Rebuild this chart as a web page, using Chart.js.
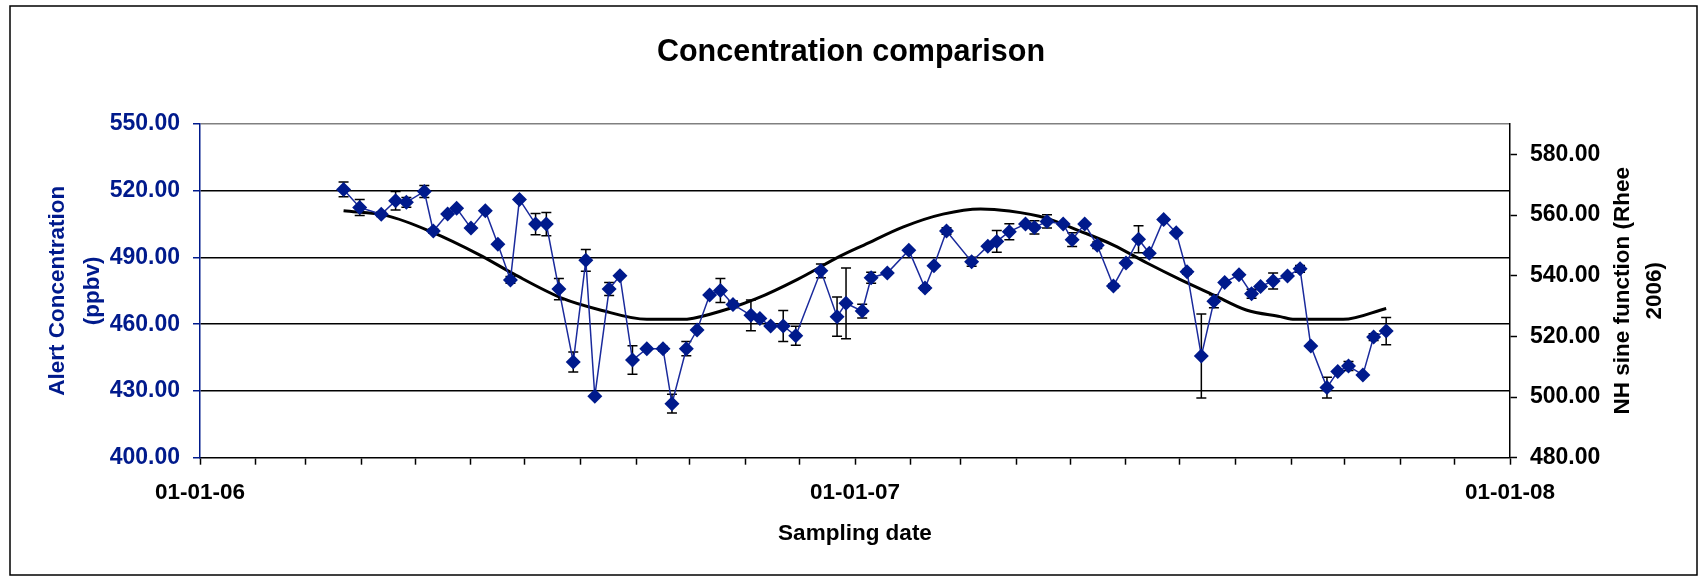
<!DOCTYPE html>
<html>
<head>
<meta charset="utf-8">
<title>Concentration comparison</title>
<script src="https://cdn.jsdelivr.net/npm/chart.js@4.4.1/dist/chart.umd.min.js"></script>
<style>
    body { margin: 0; background: #fff; }
    #wrap { position: relative; width: 1702px; height: 577px; }
</style>
</head>
<body>
<div id="wrap"><canvas id="concChart" width="1702" height="577"></canvas></div>
<script>
// Alert flask samples (ppbv) with error bars
const sampleDates = [
    '2006-03-22', '2006-03-31', '2006-04-12', '2006-04-20', '2006-04-26', '2006-05-06', '2006-05-11', '2006-05-19',
    '2006-05-24', '2006-06-01', '2006-06-09', '2006-06-16', '2006-06-23', '2006-06-28', '2006-07-07', '2006-07-13',
    '2006-07-20', '2006-07-28', '2006-08-04', '2006-08-09', '2006-08-17', '2006-08-23', '2006-08-30', '2006-09-07',
    '2006-09-16', '2006-09-21', '2006-09-29', '2006-10-05', '2006-10-12', '2006-10-18', '2006-10-25', '2006-11-04',
    '2006-11-09', '2006-11-15', '2006-11-22', '2006-11-29', '2006-12-13', '2006-12-22', '2006-12-27', '2007-01-05',
    '2007-01-10', '2007-01-19', '2007-01-31', '2007-02-09', '2007-02-14', '2007-02-21', '2007-03-07', '2007-03-16',
    '2007-03-21', '2007-03-28', '2007-04-06', '2007-04-11', '2007-04-18', '2007-04-27', '2007-05-02', '2007-05-09',
    '2007-05-16', '2007-05-25', '2007-06-01', '2007-06-08', '2007-06-14', '2007-06-22', '2007-06-29', '2007-07-05',
    '2007-07-13', '2007-07-20', '2007-07-26', '2007-08-03', '2007-08-10', '2007-08-15', '2007-08-22', '2007-08-30',
    '2007-09-06', '2007-09-12', '2007-09-21', '2007-09-27', '2007-10-03', '2007-10-11', '2007-10-17', '2007-10-24'
];
const alertConc = [
    520.6, 512.5, 509.4, 515.5, 514.8, 519.7, 501.9, 509.5,
    512.1, 503.2, 511.0, 495.9, 479.9, 516.1, 505.0, 505.0,
    475.8, 443.0, 488.7, 427.6, 475.8, 481.8, 443.9, 449.0,
    449.0, 424.3, 449.0, 457.4, 473.1, 475.2, 468.9, 464.0,
    462.6, 459.2, 459.2, 454.8, 484.0, 463.4, 469.4, 465.9,
    480.9, 483.0, 493.3, 476.3, 486.3, 501.9, 488.1, 495.1,
    497.2, 501.6, 505.0, 503.5, 506.2, 505.0, 498.0, 505.0,
    495.5, 477.2, 487.5, 498.2, 491.9, 507.1, 501.1, 483.6,
    445.7, 470.3, 478.8, 482.2, 473.7, 477.0, 479.4, 481.7,
    484.9, 450.2, 431.5, 438.7, 441.2, 437.2, 454.2, 456.9
];
const alertErr = [
    3.3, 3.6, 1.0, 4.2, 2.2, 2.7, 1.0, 0.5,
    0.5, 0.5, 0.5, 0.5, 1.5, 0.5, 4.8, 5.2,
    4.8, 4.5, 4.9, 0.5, 2.9, 0.5, 6.4, 0.5,
    1.0, 4.2, 3.2, 0.5, 0.5, 5.4, 1.5, 6.9,
    0.5, 0.5, 7.0, 4.3, 3.1, 8.8, 15.9, 3.1,
    2.5, 0.5, 0.5, 1.0, 0.5, 1.5, 2.0, 0.5,
    4.9, 3.6, 0.5, 3.0, 3.0, 0.5, 3.1, 0.5,
    1.5, 1.0, 0.5, 6.1, 0.5, 0.5, 0.5, 1.0,
    18.9, 2.9, 0.5, 0.5, 2.0, 0.5, 3.6, 0.5,
    1.5, 0.5, 4.7, 0.5, 2.0, 0.5, 1.5, 6.1
];

// NH sine function (Rhee 2006), secondary axis
const sineDates = [
    '2006-03-22', '2006-04-15', '2006-05-09', '2006-06-06', '2006-06-25', '2006-07-22', '2006-08-12', '2006-09-07',
    '2006-09-26', '2006-10-03', '2006-10-23', '2006-11-07', '2006-11-30', '2006-12-24', '2007-01-06', '2007-01-28',
    '2007-02-19', '2007-03-12', '2007-03-28', '2007-04-18', '2007-05-06', '2007-05-25', '2007-06-13', '2007-07-01',
    '2007-07-20', '2007-08-07', '2007-08-26', '2007-09-03', '2007-09-30', '2007-10-24'
];
const sineValues = [
    561.4, 559.8, 554.7, 546.8, 540.5, 532.5, 528.7, 525.6,
    525.6, 526.0, 529.2, 532.4, 538.8, 546.5, 550.1, 556.1,
    560.3, 562.0, 561.3, 558.9, 554.8, 550.1, 544.1, 538.8,
    533.6, 528.7, 526.5, 525.6, 525.6, 529.2
];

const leftTicks = [400, 430, 460, 490, 520, 550];
const rightTicks = [480, 500, 520, 540, 560, 580];
const xStart = '2006-01-01';
const xEnd = '2008-01-01';

const navy = '#001a8c';
const fontFamily = 'Arial, "Liberation Sans", sans-serif';

const alertPoints = sampleDates.map((d, i) => ({ x: Date.parse(d), y: alertConc[i] }));
const sinePoints = sineDates.map((d, i) => ({ x: Date.parse(d), y: sineValues[i] }));

function fmtDate(ms) {
    const d = new Date(ms);
    const dd = String(d.getUTCDate()).padStart(2, '0');
    const mm = String(d.getUTCMonth() + 1).padStart(2, '0');
    const yy = String(d.getUTCFullYear()).slice(2);
    return dd + '-' + mm + '-' + yy;
}

// outer frame of the chart
const framePlugin = {
    id: 'frame',
    beforeDraw(chart) {
        const ctx = chart.ctx;
        ctx.save();
        ctx.fillStyle = '#fff';
        ctx.fillRect(0, 0, chart.width, chart.height);
        ctx.strokeStyle = '#000';
        ctx.lineWidth = 1.5;
        ctx.strokeRect(10, 6, 1687, 569);
        ctx.restore();
    }
};

// vertical error bars under the markers
const errorBarPlugin = {
    id: 'errorBars',
    beforeDatasetsDraw(chart) {
        const meta = chart.getDatasetMeta(0);
        const yScale = chart.scales.y;
        const ctx = chart.ctx;
        ctx.save();
        ctx.strokeStyle = '#000';
        ctx.lineWidth = 1.5;
        meta.data.forEach((pt, i) => {
            const top = yScale.getPixelForValue(alertConc[i] + alertErr[i]);
            const bot = yScale.getPixelForValue(alertConc[i] - alertErr[i]);
            ctx.beginPath();
            ctx.moveTo(pt.x, top);
            ctx.lineTo(pt.x, bot);
            ctx.moveTo(pt.x - 5, top);
            ctx.lineTo(pt.x + 5, top);
            ctx.moveTo(pt.x - 5, bot);
            ctx.lineTo(pt.x + 5, bot);
            ctx.stroke();
        });
        ctx.restore();
    }
};

// right axis title reads bottom-to-top, like the left one
const rightTitlePlugin = {
    id: 'rightTitle',
    afterDraw(chart) {
        const ctx = chart.ctx;
        const area = chart.chartArea;
        const cy = (area.top + area.bottom) / 2;
        ctx.save();
        ctx.fillStyle = '#000';
        ctx.font = 'bold 22.5px ' + fontFamily;
        ctx.textAlign = 'center';
        ctx.textBaseline = 'middle';
        ctx.translate(1623, cy);
        ctx.rotate(-Math.PI / 2);
        ctx.fillText('NH sine function (Rhee', 0, 0);
        ctx.fillText('2006)', 0, 32);
        ctx.restore();
    }
};

const chart = new Chart(document.getElementById('concChart'), {
    type: 'line',
    data: {
        datasets: [{
            label: 'Alert',
            data: alertPoints,
            yAxisID: 'y',
            borderColor: '#1a2a9c',
            borderWidth: 1.5,
            pointStyle: 'rectRot',
            pointRadius: 7.5,
            pointBackgroundColor: navy,
            pointBorderColor: navy,
            pointBorderWidth: 0,
            tension: 0,
            order: 0
        }, {
            label: 'NH sine function',
            data: sinePoints,
            yAxisID: 'y2',
            borderColor: '#000',
            borderWidth: 3,
            pointRadius: 0,
            cubicInterpolationMode: 'monotone',
            order: 1
        }]
    },
    options: {
        responsive: false,
        animation: false,
        layout: { padding: { left: 0, right: 0, top: 0, bottom: 30 } },
        plugins: {
            legend: { display: false },
            tooltip: { enabled: false },
            title: {
                display: true,
                text: 'Concentration comparison',
                color: '#000',
                font: { family: fontFamily, size: 30.5, weight: 'bold', lineHeight: 1.2 },
                padding: { top: 34, bottom: 53.4 }
            }
        },
        scales: {
            x: {
                type: 'linear',
                min: Date.parse(xStart),
                max: Date.parse(xEnd),
                afterBuildTicks(scale) {
                    const ticks = [];
                    for (let y = 2006; y <= 2008; y++) {
                        for (let m = 0; m < 12; m++) {
                            if (y === 2008 && m > 0) break;
                            ticks.push({ value: Date.UTC(y, m, 1) });
                        }
                    }
                    scale.ticks = ticks;
                },
                afterFit(scale) { scale.height = 89.3; },
                ticks: {
                    autoSkip: false,
                    maxRotation: 0,
                    padding: 15,
                    color: '#000',
                    font: { family: fontFamily, size: 22.5, weight: 'bold' },
                    callback(value) {
                        return new Date(value).getUTCMonth() === 0 ? fmtDate(value) : '';
                    }
                },
                grid: { drawOnChartArea: false, tickLength: 7, tickColor: '#000', tickWidth: 1.5 },
                border: { color: '#000', width: 1.5 },
                title: {
                    display: true,
                    text: 'Sampling date',
                    color: '#000',
                    font: { family: fontFamily, size: 22.5, weight: 'bold', lineHeight: 1.2 },
                    padding: 0
                }
            },
            y: {
                position: 'left',
                min: 400,
                max: 550,
                afterBuildTicks(scale) { scale.ticks = leftTicks.map(v => ({ value: v })); },
                afterFit(scale) { scale.width = 200; },
                ticks: {
                    padding: 13,
                    color: navy,
                    font: { family: fontFamily, size: 23, weight: 'bold' },
                    callback: v => v.toFixed(2)
                },
                grid: {
                    color: c => c.tick && c.tick.value === 550 ? '#808080' : (c.tick && c.tick.value === 400 ? 'rgba(0,0,0,0)' : '#000'),
                    lineWidth: 1.5,
                    tickLength: 7,
                    tickColor: navy,
                    tickWidth: 1.5
                },
                border: { color: navy, width: 1.5 },
                title: {
                    display: true,
                    text: ['Alert Concentration', '(ppbv)'],
                    color: navy,
                    font: { family: fontFamily, size: 22.5, weight: 'bold', lineHeight: 1.55 },
                    padding: { top: 40, bottom: 0 }
                }
            },
            y2: {
                position: 'right',
                min: 480,
                max: 590,
                afterBuildTicks(scale) { scale.ticks = rightTicks.map(v => ({ value: v })); },
                afterFit(scale) { scale.width = 192; },
                ticks: {
                    padding: 13,
                    color: '#000',
                    font: { family: fontFamily, size: 23, weight: 'bold' },
                    callback: v => v.toFixed(2)
                },
                grid: { drawOnChartArea: false, tickLength: 7, tickColor: '#000', tickWidth: 1.5 },
                border: { color: '#000', width: 1.5 }
            }
        }
    },
    plugins: [framePlugin, errorBarPlugin, rightTitlePlugin]
});
</script>
</body>
</html>
